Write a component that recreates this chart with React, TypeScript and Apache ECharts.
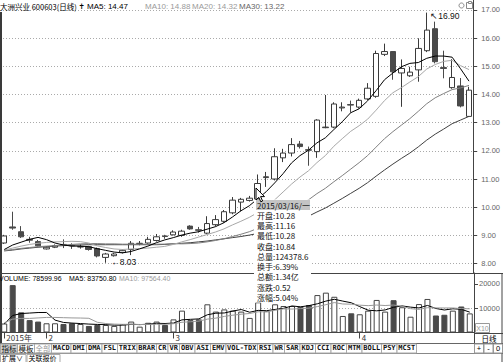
import React, { useEffect, useRef } from "react";
import * as echarts from "echarts";

// ---------- data ----------
const dates = [
  "2015/01/26","2015/01/27","2015/01/28","2015/01/29","2015/01/30",
  "2015/02/02","2015/02/03","2015/02/04","2015/02/05","2015/02/06",
  "2015/02/09","2015/02/10","2015/02/11","2015/02/12","2015/02/13",
  "2015/02/16","2015/02/17","2015/02/25","2015/02/26","2015/02/27",
  "2015/03/02","2015/03/03","2015/03/04","2015/03/05","2015/03/06",
  "2015/03/09","2015/03/10","2015/03/11","2015/03/12","2015/03/13",
  "2015/03/16","2015/03/17","2015/03/18","2015/03/19","2015/03/20",
  "2015/03/23","2015/03/24","2015/03/25","2015/03/26","2015/03/27",
  "2015/03/30","2015/03/31",
  "2015/04/01","2015/04/02","2015/04/03","2015/04/07","2015/04/08",
  "2015/04/09","2015/04/10","2015/04/13","2015/04/14","2015/04/15",
  "2015/04/16","2015/04/17","2015/04/20","2015/04/21",
];
const opens = [8.73,9.30,9.13,8.86,8.78,8.52,8.58,8.68,8.64,8.59,8.60,8.53,8.22,8.28,8.40,8.50,8.71,8.73,8.82,8.98,9.02,9.00,9.33,9.20,9.08,9.38,9.50,9.80,10.18,10.24,10.28,11.05,11.00,11.75,11.92,12.24,12.04,11.97,12.82,12.84,13.52,13.64,13.55,13.84,13.93,15.42,15.52,14.76,14.66,14.87,15.55,16.33,14.95,14.24,14.30,13.22];
const closes = [8.98,9.26,8.95,8.83,8.63,8.58,8.64,8.64,8.63,8.60,8.50,8.27,8.34,8.34,8.47,8.72,8.72,8.86,8.95,8.96,9.12,9.15,9.23,9.18,9.42,9.56,9.84,10.25,10.28,10.32,10.84,11.08,11.79,11.92,12.22,12.15,12.02,13.09,12.84,13.66,13.55,13.62,13.79,14.22,15.45,15.52,14.80,14.92,14.79,15.63,16.28,15.16,14.92,14.60,13.59,14.15];
const highs = [9.02,9.84,9.33,8.95,8.84,8.62,8.68,8.86,8.72,8.68,8.63,8.57,8.38,8.38,8.50,8.80,8.80,8.95,9.05,9.02,9.18,9.20,9.36,9.30,9.68,9.72,9.90,10.36,10.33,10.40,11.16,11.25,12.09,12.07,12.45,12.35,12.15,13.12,13.98,13.72,13.72,13.78,13.85,14.40,15.55,15.80,15.52,15.24,14.98,15.99,16.90,16.58,15.55,15.25,14.58,14.27];
const lows = [8.70,9.20,8.91,8.74,8.60,8.50,8.55,8.55,8.52,8.53,8.46,8.22,8.03,8.25,8.36,8.30,8.65,8.70,8.78,8.88,9.00,8.95,9.20,9.10,9.05,9.32,9.45,9.75,9.85,10.20,10.28,10.72,10.95,11.60,11.80,12.08,11.47,11.75,12.80,12.80,13.40,13.35,13.50,13.80,13.88,15.36,14.52,13.56,14.62,14.45,15.50,15.10,14.57,14.20,13.54,13.20];

const ma5 = [8.50,8.66,8.76,8.86,8.93,8.85,8.73,8.66,8.62,8.62,8.60,8.53,8.47,8.41,8.38,8.43,8.52,8.62,8.74,8.84,8.92,9.01,9.08,9.13,9.22,9.31,9.45,9.65,9.87,10.05,10.30,10.55,10.86,11.19,11.57,11.83,12.02,12.28,12.46,12.75,13.03,13.35,13.49,13.77,14.13,14.52,14.76,14.98,15.10,15.13,15.28,15.36,15.36,15.32,14.91,14.47];
const ma10 = [8.48,8.55,8.62,8.68,8.72,8.75,8.77,8.78,8.79,8.78,8.73,8.63,8.57,8.52,8.50,8.52,8.53,8.55,8.58,8.61,8.68,8.77,8.85,8.94,9.03,9.12,9.23,9.37,9.50,9.64,9.81,10.01,10.26,10.54,10.82,11.07,11.29,11.58,11.83,12.16,12.43,12.69,12.89,13.12,13.44,13.78,14.06,14.24,14.44,14.63,14.90,15.06,15.17,15.21,15.02,14.88];
const ma20 = [8.46,8.50,8.54,8.57,8.60,8.62,8.64,8.66,8.68,8.70,8.71,8.71,8.70,8.70,8.69,8.69,8.69,8.69,8.69,8.69,8.71,8.70,8.71,8.73,8.77,8.82,8.88,8.96,9.04,9.13,9.25,9.39,9.56,9.74,9.93,10.10,10.26,10.48,10.67,10.90,11.12,11.35,11.58,11.83,12.13,12.43,12.68,12.91,13.14,13.40,13.67,13.88,14.03,14.17,14.23,14.32];
const ma30 = [8.45,8.48,8.52,8.55,8.58,8.60,8.62,8.64,8.65,8.66,8.67,8.67,8.67,8.67,8.67,8.67,8.67,8.67,8.67,8.68,8.70,8.72,8.74,8.77,8.80,8.84,8.88,8.92,8.96,9.01,9.07,9.14,9.23,9.33,9.45,9.57,9.68,9.83,9.97,10.14,10.31,10.49,10.67,10.87,11.10,11.32,11.53,11.73,11.92,12.14,12.38,12.59,12.77,12.96,13.09,13.22];

const volumes = [37000,195000,83000,51000,45000,38000,38000,35000,38000,35000,27000,31000,31000,27000,35000,45000,24000,40000,45000,31000,54000,90000,51000,54000,116000,86000,95000,90000,86000,60000,124378.6,88000,116000,109000,109000,106000,113000,154000,164000,147000,68000,79000,75000,90000,134000,86000,133000,104000,65000,117000,138000,70000,73000,90000,107000,78599.96];
const volMa5 = [35000,70000,78000,80000,82200,82400,51000,41400,38800,36800,34600,33200,32400,30200,30200,33800,32400,34200,37800,37000,38800,52000,54200,56000,73000,79400,80400,88200,94600,83400,91100,89700,94900,99500,109300,105600,110600,118200,129200,136800,129200,122400,106600,91800,89200,92800,103600,109400,104400,101000,111400,98800,92600,97600,95600,83750.8];
const volMa10 = [40000,55000,58000,58000,60000,62000,62000,61000,60000,59500,58500,42100,36900,34500,33500,34200,32800,33300,34000,33600,36300,42200,44200,46900,55000,59100,66200,71200,75300,78200,85300,85100,91600,97100,96400,98400,100200,106600,114400,123100,117400,116500,112400,110500,113000,111000,113000,108000,98100,95100,102100,101200,101000,101000,98300,97564.4];

const priceTicks = [8, 9, 10, 11, 12, 13, 14, 15, 16, 17];
const volTicks = [100000, 200000];
const volGrid = [100000];

const stockName = "大洲兴业 600603(日线)";
const tipIndex = 30;
const tipWeekday = "一";
const tipTurnover = "6.39%";
const tipAmount = "1.34亿";

const indicatorButtons = ["指标","模板","全部","MACD","DMI","DMA","FSL","TRIX","BRAR","CR","VR","OBV","ASI","EMV","VOL-TDX","RSI","WR","SAR","KDJ","CCI","ROC","MTM","BOLL","PSY","MCST"];
const bottomButtons = ["扩展∨", "关联报价"];
const zoomButtons = ["+", "-", "0"];

// ---------- layout ----------
const W = 503;
const H = 362;
const PLOT_W = 474;
const PRICE_TOP = 0;
const PRICE_H = 273;
const Y16 = 38;
const PX_PER = 28.2;
const PRICE_MAX = 16 + (Y16 - PRICE_TOP) / PX_PER;
const PRICE_MIN = 16 - (PRICE_TOP + PRICE_H - Y16) / PX_PER;
const VOL_TOP = 273;
const VOL_BOTTOM = 332.5;
const VOL_PX = 24.3 / 100000;
const VOL_MAX = (VOL_BOTTOM - VOL_TOP) / VOL_PX;

const CJK = '"Noto Sans CJK SC", sans-serif';
const SANS = '"Liberation Sans", Arial, sans-serif';
const MONO = '"DejaVu Sans Mono", monospace';

function text(x: number, y: number, t: string, o: any = {}) {
  return {
    type: "text",
    x,
    y,
    z: o.z ?? 100,
    silent: true,
    style: {
      text: t,
      fill: o.fill ?? "#000",
      fontSize: o.size ?? 8,
      fontFamily: o.family ?? SANS,
      fontWeight: o.weight ?? "normal",
      align: o.align ?? "left",
      verticalAlign: "middle",
    },
  };
}
function line(x1: number, y1: number, x2: number, y2: number, stroke = "#444", lw = 1, z = 60) {
  return { type: "line", z, silent: true, shape: { x1, y1, x2, y2 }, style: { stroke, lineWidth: lw } };
}
function rect(x: number, y: number, w: number, h: number, fill: string, stroke: string | null, z = 90) {
  return {
    type: "rect",
    z,
    silent: true,
    shape: { x, y, width: w, height: h },
    style: { fill, stroke: stroke ?? "none", lineWidth: 1 },
  };
}

function buildGraphics() {
  const g: any[] = [];
  // title bar
  g.push(text(0, 6, stockName, { family: CJK, size: 7.5 }));
  g.push(text(78.5, 6, "✝", { family: '"DejaVu Sans"', size: 7.5, weight: "bold" }));
  g.push(text(87, 6, `MA5: ${ma5[ma5.length - 1].toFixed(2)}`, { size: 8 }));
  g.push(text(145, 6, `MA10: ${ma10[ma10.length - 1].toFixed(2)}`, { size: 8, fill: "#9a9a9a" }));
  g.push(text(192, 6, `MA20: ${ma20[ma20.length - 1].toFixed(2)}`, { size: 8, fill: "#9a9a9a" }));
  g.push(text(239, 6, `MA30: ${ma30[ma30.length - 1].toFixed(2)}`, { size: 8, fill: "#666" }));
  // top-right icons
  g.push({ type: "circle", z: 100, silent: true, shape: { cx: 461.5, cy: 5.5, r: 2.5 }, style: { fill: "none", stroke: "#888", lineWidth: 1 } });
  g.push(rect(466.5, 2.5, 6, 6, "none", "#888", 100));
  g.push(rect(468.5, 1.5, 3, 2, "#fff", "#888", 100));

  // frame lines
  g.push(line(1, 12, 1, 343, "#3a3a3a", 2));
  g.push(line(0, 273.5, W, 273.5, "#444", 1));
  g.push(line(PLOT_W + 0.5, 332, PLOT_W + 0.5, 353, "#444", 1));
  g.push(line(PLOT_W, 333.5, W, 333.5, "#444", 1));
  g.push(line(0, 343.5, W, 343.5, "#666", 1));
  g.push(line(0, 353.5, W, 353.5, "#888", 1));
  g.push(line(W - 1, 273, W - 1, 362, "#444", 1));

  // volume title
  g.push(text(-1, 278.5, `VOLUME: ${volumes[volumes.length - 1].toFixed(2)}`, { size: 7 }));
  g.push(text(69, 278.5, `MA5: ${volMa5[volMa5.length - 1].toFixed(2)}`, { size: 7 }));
  g.push(text(119, 278.5, `MA10: ${volMa10[volMa10.length - 1].toFixed(2)}`, { size: 7, fill: "#9a9a9a" }));

  // right panel widgets
  g.push(rect(475.5, 323.5, 14, 9, "#fff", "#999", 100));
  g.push(text(482.5, 328.5, "X10", { size: 7, fill: "#999", align: "center" }));
  g.push(text(489, 338.5, "日线", { size: 7.5, family: CJK, align: "center" }));
  let zx = 474.5;
  zoomButtons.forEach((b) => {
    const w = 9;
    g.push(rect(zx, 344, w, 9, "#fff", "#999", 95));
    g.push(text(zx + w / 2, 348.2, b, { size: 7.5, align: "center" }));
    zx += w + 0.5;
  });

  // indicator buttons
  let bx = 0.5;
  indicatorButtons.forEach((b, i) => {
    const cjk = /[^\x00-\xff]/.test(b);
    const w = cjk ? 17 : b.length * 4 + 3.5;
    const fill = i === 0 ? "#cfcfcf" : "#fff";
    g.push(rect(bx, 344, w, 9, fill, "#aaa", 95));
    g.push(
      text(bx + w / 2, 348.2, b, {
        size: cjk ? 7.5 : 7,
        family: cjk ? CJK : MONO,
        weight: cjk ? "normal" : "bold",
        fill: i === 2 ? "#999" : "#111",
        align: "center",
      })
    );
    bx += w;
  });
  // bottom row
  let rx = 0.5;
  bottomButtons.forEach((b) => {
    const w = b.length * 7.5 + 3;
    g.push(rect(rx, 354.5, w, 8, "#fff", "#aaa", 95));
    g.push(text(rx + 1.5, 358.3, b, { size: 7, family: CJK }));
    rx += w + 1;
  });

  // static tooltip
  const i = tipIndex;
  const prev = closes[i - 1];
  const chg = closes[i] - prev;
  const rows = [
    `${dates[i]}/${tipWeekday}`,
    `开盘:${opens[i].toFixed(2)}`,
    `最高:${highs[i].toFixed(2)}`,
    `最低:${lows[i].toFixed(2)}`,
    `收盘:${closes[i].toFixed(2)}`,
    `总量:${volumes[i].toFixed(1)}`,
    `换手:${tipTurnover}`,
    `总额:${tipAmount}`,
    `涨跌:${chg.toFixed(2)}`,
    `涨幅:${((chg / prev) * 100).toFixed(2)}%`,
  ];
  g.push(rect(254, 199.5, 57, 103, "#fff", null, 90));
  g.push(rect(256, 200, 54, 10, "#c4c4c4", null, 91));
  rows.forEach((r, k) => {
    g.push(text(257, 205 + k * 10.25, r, { size: 8, family: CJK, fill: "#111" }));
  });
  // mouse cursor
  g.push({
    type: "polygon",
    z: 110,
    silent: true,
    shape: { points: [[256, 188], [256, 200], [258.8, 197.3], [260.8, 201.8], [262.6, 201], [260.6, 196.6], [264.5, 196.6]] },
    style: { fill: "#fff", stroke: "#000", lineWidth: 1 },
  });
  return g;
}

function buildOption() {
  const candleData = dates.map((_, i) => [opens[i], closes[i], lows[i], highs[i]]);
  const volData = volumes.map((v, i) => {
    const up = closes[i] > opens[i] || (closes[i] === opens[i] && i > 0 && closes[i] >= closes[i - 1]);
    return {
      value: v,
      itemStyle: up
        ? { color: "#ffffff", borderColor: "#444", borderWidth: 1 }
        : { color: "#4a4a4a", borderColor: "#4a4a4a", borderWidth: 1 },
    };
  });
  const hiIdx = highs.indexOf(Math.max(...highs));
  const loIdx = lows.indexOf(Math.min(...lows));
  const monthLabel = (idx: number) => {
    if (idx === 0) return dates[0].slice(0, 4) + "年";
    const m = dates[idx].slice(5, 7);
    const pm = dates[idx - 1].slice(5, 7);
    return m !== pm ? String(Number(m)) : "";
  };
  const isMonthStart = (idx: number) => monthLabel(idx) !== "";

  const maLine = (name: string, data: number[], color: string) => ({
    name,
    type: "line",
    xAxisIndex: 0,
    yAxisIndex: 0,
    data,
    symbol: "none",
    showSymbol: false,
    silent: true,
    z: 4,
    lineStyle: { color, width: 1 },
  });

  return {
    animation: false,
    backgroundColor: "#ffffff",
    grid: [
      { left: 0, top: PRICE_TOP, width: PLOT_W, height: PRICE_H },
      { left: 0, top: VOL_TOP, width: PLOT_W, height: VOL_BOTTOM - VOL_TOP },
    ],
    xAxis: [
      {
        type: "category",
        gridIndex: 0,
        data: dates,
        boundaryGap: true,
        axisLine: { show: false },
        axisTick: { show: false },
        axisLabel: { show: false },
        splitLine: { show: false },
      },
      {
        type: "category",
        gridIndex: 1,
        data: dates,
        boundaryGap: true,
        axisLine: { show: true, lineStyle: { color: "#444", width: 1 } },
        axisTick: {
          show: true,
          alignWithLabel: true,
          interval: (idx: number) => isMonthStart(idx),
          length: 6,
          lineStyle: { color: "#444" },
        },
        axisLabel: {
          show: true,
          interval: (idx: number) => isMonthStart(idx),
          formatter: (_v: string, idx: number) => monthLabel(idx),
          align: "left",
          margin: 1,
          padding: [0, 0, 0, 2],
          fontSize: 8,
          fontFamily: CJK,
          color: "#333",
        },
        splitLine: { show: false },
      },
    ],
    yAxis: [
      {
        type: "value",
        gridIndex: 0,
        position: "right",
        min: PRICE_MIN,
        max: PRICE_MAX,
        axisLine: { show: true, lineStyle: { color: "#444" } },
        axisTick: { show: true, customValues: priceTicks, length: 4, lineStyle: { color: "#444" } },
        axisLabel: {
          customValues: priceTicks,
          formatter: (v: number) => v.toFixed(2),
          fontSize: 7.5,
          color: "#666",
          margin: 8,
          fontFamily: SANS,
        },
        splitLine: { show: false },
      },
      {
        type: "value",
        gridIndex: 1,
        position: "right",
        min: 0,
        max: VOL_MAX,
        axisLine: { show: true, lineStyle: { color: "#444" } },
        axisTick: { show: true, customValues: volTicks, length: 4, lineStyle: { color: "#444" } },
        axisLabel: {
          customValues: volTicks,
          formatter: (v: number) => String(Math.round(v / 10)),
          fontSize: 7.5,
          color: "#666",
          margin: 5,
          fontFamily: SANS,
        },
        splitLine: { show: false },
      },
    ],
    series: [
      {
        name: "K",
        type: "candlestick",
        xAxisIndex: 0,
        yAxisIndex: 0,
        data: candleData,
        barWidth: 6,
        z: 3,
        silent: true,
        itemStyle: {
          color: "#ffffff",
          color0: "#4a4a4a",
          borderColor: "#3a3a3a",
          borderColor0: "#4a4a4a",
          borderWidth: 1,
        },
        markPoint: {
          silent: true,
          symbol: "circle",
          symbolSize: 1,
          itemStyle: { color: "rgba(0,0,0,0)" },
          data: [
            {
              coord: [dates[hiIdx], highs[hiIdx]],
              label: {
                show: true,
                position: "right",
                offset: [-2, 3],
                formatter: "↖" + highs[hiIdx].toFixed(2),
                fontSize: 8.5,
                color: "#111",
                fontFamily: SANS,
              },
            },
            {
              coord: [dates[loIdx], lows[loIdx]],
              label: {
                show: true,
                position: "right",
                offset: [0, -1],
                formatter: "←" + lows[loIdx].toFixed(2),
                fontSize: 8.5,
                color: "#111",
                fontFamily: SANS,
              },
            },
          ],
        },
      },
      {
        ...maLine("MA30", ma30, "#404040"),
        markLine: {
          silent: true,
          z: 0,
          symbol: ["none", "none"],
          label: { show: false },
          lineStyle: { color: "#aaaaaa", type: [1, 2], width: 1 },
          data: priceTicks.map((v) => ({ yAxis: v })),
        },
      },
      maLine("MA20", ma20, "#808080"),
      maLine("MA10", ma10, "#a8a8a8"),
      maLine("MA5", ma5, "#000000"),
      {
        name: "VOL",
        type: "bar",
        xAxisIndex: 1,
        yAxisIndex: 1,
        data: volData,
        barWidth: 6,
        silent: true,
        z: 3,
        markLine: {
          silent: true,
          z: 0,
          symbol: ["none", "none"],
          label: { show: false },
          lineStyle: { color: "#aaaaaa", type: [1, 2], width: 1 },
          data: volGrid.map((v) => ({ yAxis: v })),
        },
      },
      {
        name: "VMA5",
        type: "line",
        xAxisIndex: 1,
        yAxisIndex: 1,
        data: volMa5,
        symbol: "none",
        silent: true,
        z: 4,
        lineStyle: { color: "#000", width: 1 },
      },
      {
        name: "VMA10",
        type: "line",
        xAxisIndex: 1,
        yAxisIndex: 1,
        data: volMa10,
        symbol: "none",
        silent: true,
        z: 4,
        lineStyle: { color: "#999", width: 1 },
      },
    ],
    graphic: buildGraphics(),
  };
}

export default function App() {
  const ref = useRef<HTMLDivElement>(null);
  useEffect(() => {
    if (!ref.current) return;
    const chart = echarts.init(ref.current, null, { renderer: "svg", width: W, height: H });
    chart.setOption(buildOption() as any);
    return () => chart.dispose();
  }, []);
  return (
    <div
      ref={ref}
      style={{ position: "fixed", left: 0, top: 0, width: W, height: H, background: "#fff" }}
    />
  );
}
